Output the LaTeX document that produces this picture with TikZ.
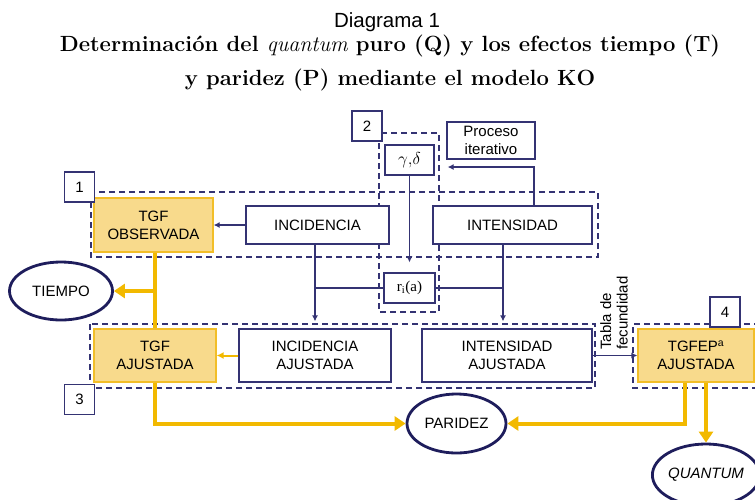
\documentclass[tikz,border=0pt]{standalone}
\usepackage{fontspec}
\newfontfamily\sansf{Liberation Sans}
\newfontfamily\seriff{Liberation Serif}
\usetikzlibrary{arrows.meta,calc,shapes.geometric}
\definecolor{navy}{RGB}{52,51,115}
\definecolor{dnavy}{RGB}{30,29,92}
\definecolor{gold}{RGB}{242,185,0}
\definecolor{lgold}{RGB}{248,218,140}
\definecolor{bgold}{RGB}{242,190,40}
\begin{document}
\begin{tikzpicture}[x=1pt,y=-1pt,
  box/.style={draw=navy,line width=1.2pt,fill=white,inner sep=0pt,align=center,
    font=\sansf\fontsize{15}{18}\selectfont},
  ybox/.style={box,draw=bgold,fill=lgold},
  lab/.style={box,minimum width=30pt,minimum height=30pt},
  oval/.style={ellipse,draw=dnavy,line width=2.8pt,fill=white,inner sep=0pt,
    font=\sansf\fontsize{15}{18}\selectfont},
  grp/.style={draw=navy,line width=1.2pt,dash pattern=on 6pt off 4pt},
  narr/.style={draw=navy,line width=1.2pt,-{Latex[length=6pt,width=6pt]}},
  nline/.style={draw=navy,line width=1.2pt},
  yarr/.style={draw=gold,line width=4pt,-{Triangle[length=11pt,width=14pt]}},
  yline/.style={draw=gold,line width=4pt},
  ythin/.style={draw=gold,line width=2pt,-{Latex[length=7pt,width=7pt]}}
]
\useasboundingbox (0,0) rectangle (755,499);

% titles
\node[anchor=base,font=\sansf\fontsize{20.5}{24}\selectfont] (t0) at (387,27) {Diagrama 1};
\node[anchor=base,font=\bfseries\fontsize{22}{26}\selectfont] (t1) at (390,51)
  {Determinación del {\mdseries\itshape quantum} puro (Q) y los efectos tiempo (T)};
\node[anchor=base,font=\bfseries\fontsize{22}{26}\selectfont] (t2) at (390,85)
  {y paridez (P) mediante el modelo KO};

% group frames
\draw[grp] (91,192) rectangle (598,257);
\draw[grp] (379,133) rectangle (439,312);
\draw[grp] (90,324) rectangle (595,388);
\draw[grp] (760,324) -- (633,324) -- (633,388) -- (760,388);

% boxes
\node[ybox,minimum width=119pt,minimum height=54pt] (tgfobs) at (153.5,225) {TGF\\OBSERVADA};
\node[box,minimum width=143pt,minimum height=38pt] (inc) at (317.5,225) {INCIDENCIA};
\node[box,minimum width=159pt,minimum height=38pt] (int) at (512.5,225) {INTENSIDAD};
\node[box,minimum width=49pt,minimum height=30pt,font=\fontsize{16}{18}\selectfont] (gd) at (409.5,160) {$\gamma{,}\delta$};
\node[box,minimum width=88pt,minimum height=37pt] (proc) at (491,140.5) {Proceso\\iterativo};
\node[box,minimum width=51pt,minimum height=30pt,font=\seriff\fontsize{15}{18}\selectfont] (ri) at (409.5,288) {r\textsubscript{i}(a)};
\node[ybox,minimum width=122pt,minimum height=53pt] (tgfaj) at (155,355.5) {TGF\\AJUSTADA};
\node[box,minimum width=152pt,minimum height=53pt] (incaj) at (315,355.5) {INCIDENCIA\\AJUSTADA};
\node[box,minimum width=170pt,minimum height=53pt] (intaj) at (507,355.5) {INTENSIDAD\\AJUSTADA};
\node[ybox,minimum width=116pt,minimum height=53pt] (tgfep) at (696,355.5) {TGFEP\textsuperscript{a}\\AJUSTADA};

% labels
\node[lab] (l1) at (79.5,187) {1};
\node[lab] (l2) at (367,126) {2};
\node[lab] (l3) at (79.5,399.5) {3};
\node[lab] (l4) at (725,312) {4};

% ovals
\node[oval,minimum width=103pt,minimum height=58pt] (tiempo) at (61,291) {TIEMPO};
\node[oval,minimum width=99pt,minimum height=59pt] (paridez) at (456.5,423.5) {PARIDEZ};
\node[oval,minimum width=100pt,minimum height=62pt] (quantum) at (706,475) {\itshape QUANTUM};

% helper x positions
\coordinate (vi) at (315,0);
\coordinate (vn) at (503,0);

% navy connectors
\draw[narr] (inc.west) -- (tgfobs.east);
\draw[narr] ([xshift=21.5pt]int.north) |- ($(gd.east)+(13,7)$);
\draw[narr,shorten >=10pt] (gd.south) -- (ri.north);
\draw[narr,shorten >=7pt] (inc.south -| vi) -- (incaj.north -| vi);
\draw[nline] (ri.west -| vi) -- (ri.west);
\draw[narr,shorten >=7pt] (int.south -| vn) -- (intaj.north -| vn);
\draw[nline] (ri.east) -- (ri.east -| vn);
\draw[narr] (intaj.east) -- (tgfep.west);
\node[rotate=90,anchor=north west,align=left,inner sep=0pt,
  font=\sansf\fontsize{15}{16.5}\selectfont] (tabla) at (600,350) {Tabla de\\fecundidad};

% yellow connectors
\draw[ythin] (incaj.west) -- (tgfaj.east);
\draw[yline] (tgfobs.south -| tgfaj.north) -- (tgfaj.north);
\draw[yarr] (tiempo.east -| tgfaj.north) -- (tiempo.east);
\draw[yarr] (tgfaj.south) |- (paridez.west);
\draw[yarr] ([xshift=-11pt]tgfep.south) |- (paridez.east);
\draw[yarr] (tgfep.south -| quantum.north) -- (quantum.north);
\end{tikzpicture}
\end{document}
